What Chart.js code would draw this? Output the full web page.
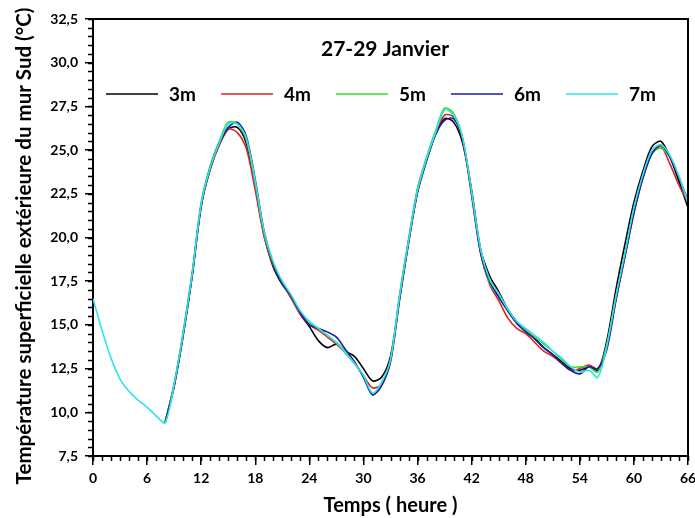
<!DOCTYPE html>
<html>
<head>
<meta charset="utf-8">
<script src="https://cdn.jsdelivr.net/npm/chart.js@4.4.1/dist/chart.umd.min.js"></script>
<style>
  html, body { margin: 0; padding: 0; background: #fff; }
  #wrap { width: 695px; height: 518px; }
</style>
</head>
<body>
<div id="wrap"><canvas id="chart" width="695" height="518"></canvas></div>
<script>
const hours = [0,1,2,3,4,5,6,7,8,9,10,11,12,13,14,15,16,17,18,19,20,21,22,23,24,25,26,27,28,29,30,31,32,33,34,35,36,37,38,39,40,41,42,43,44,45,46,47,48,49,50,51,52,53,54,55,56,57,58,59,60,61,62,63,64,65,66];

const labels = ["3m", "4m", "5m", "6m", "7m"];
const colors = ["#000000", "#d92424", "#33dd33", "#1c1ca8", "#33e3e3"];

const s3m = [null,null,null,null,null,null,null,null,9.4,11.5,14.4,17.8,21.8,23.9,25.3,26.2,26.3,25.4,22.9,20.1,18.3,17.3,16.6,15.6,14.9,14.1,13.7,13.9,13.5,13.2,12.5,11.8,12.0,13.2,16.5,19.7,22.6,24.4,25.9,26.8,26.6,25.4,22.7,19.3,17.8,16.9,15.9,15.2,14.7,14.2,13.7,13.3,12.9,12.5,12.4,12.6,12.4,14.1,17.0,19.6,22.0,23.8,25.2,25.5,24.6,23.2,21.7];
const s4m = [null,null,null,null,null,null,null,null,9.4,11.6,14.5,17.9,21.9,23.9,25.3,26.2,26.0,25.1,22.7,20.0,18.4,17.4,16.5,15.6,15.0,14.7,14.3,13.9,13.4,12.8,12.1,11.4,11.6,12.9,16.6,19.8,22.8,24.5,26.0,27.0,26.9,25.6,22.6,19.1,17.3,16.4,15.4,14.8,14.5,14.0,13.5,13.2,12.8,12.4,12.5,12.7,12.5,13.8,16.4,18.9,21.4,23.4,24.8,25.2,24.2,23.0,22.0];
const s5m = [null,null,null,null,null,null,null,null,9.4,11.6,14.6,18.0,22.0,24.1,25.5,26.6,26.5,25.6,23.1,20.2,18.5,17.4,16.6,15.7,15.1,14.8,14.4,14.0,13.5,12.8,12.1,11.0,11.6,13.0,16.7,19.9,22.8,24.6,26.1,27.4,27.1,25.7,22.5,19.2,17.4,16.6,15.8,15.1,14.7,14.3,13.9,13.5,13.0,12.6,12.6,12.6,12.3,13.9,16.6,19.1,21.6,23.5,24.8,25.1,24.6,23.5,22.0];
const s6m = [null,null,null,null,null,null,null,null,9.4,11.5,14.4,17.8,21.8,24.0,25.4,26.3,26.6,25.8,23.3,20.3,18.5,17.4,16.6,15.7,15.0,14.8,14.6,14.3,13.6,12.9,12.0,11.0,11.5,12.9,16.4,19.7,22.6,24.4,25.9,26.7,26.8,25.6,22.4,19.1,17.5,16.6,15.8,15.1,14.6,14.2,13.7,13.3,12.8,12.4,12.2,12.6,12.5,13.6,16.4,18.9,21.4,23.4,24.8,25.3,24.6,23.4,22.1];
const s7m = [16.5,14.7,13.1,11.9,11.2,10.7,10.3,9.8,9.4,11.6,14.5,17.9,21.9,24.0,25.4,26.5,26.5,25.7,23.2,20.3,18.6,17.5,16.7,15.8,15.2,14.8,14.4,14.0,13.4,12.8,12.1,11.1,11.7,13.0,16.6,19.8,22.7,24.5,26.0,27.3,27.0,25.7,22.6,19.3,17.6,16.8,15.9,15.2,14.8,14.4,14.0,13.5,13.1,12.6,12.3,12.4,12.0,13.8,16.6,19.1,21.7,23.6,25.0,25.3,24.7,23.5,22.0];

const series = [s3m, s4m, s5m, s6m, s7m];

const Y_MIN = 7.5, Y_MAX = 32.5, Y_STEP = 2.5, Y_MINOR = 0.5;
const X_MIN = 0, X_MAX = 66, X_STEP = 6, X_MINOR = 1;

const chartTitle = "27-29 Janvier";
const yTitle = "Température superficielle extérieure du mur Sud (°C)";
const xTitle = "Temps ( heure )";

const FONT = "Lato";

// frame, minor ticks, y title, title and legend inside the plot
const decorations = {
  id: "decorations",
  afterDraw(chart) {
    const { ctx, chartArea: a, scales: { x, y } } = chart;
    ctx.save();
    ctx.strokeStyle = "#000";
    ctx.lineWidth = 2;
    ctx.beginPath();
    ctx.moveTo(a.left, a.top);
    ctx.lineTo(a.right, a.top);
    ctx.lineTo(a.right, a.bottom);
    ctx.stroke();

    ctx.lineWidth = 1.5;
    ctx.beginPath();
    for (let v = Y_MIN; v <= Y_MAX; v += Y_MINOR) {
      const py = Math.round(y.getPixelForValue(v)) + 0.5;
      ctx.moveTo(a.left - 5, py);
      ctx.lineTo(a.left, py);
    }
    for (let h = X_MIN; h <= X_MAX; h += X_MINOR) {
      const px = Math.round(x.getPixelForValue(h)) + 0.5;
      ctx.moveTo(px, a.bottom);
      ctx.lineTo(px, a.bottom + 5);
    }
    ctx.stroke();

    ctx.fillStyle = "#000";
    ctx.textAlign = "center";
    ctx.textBaseline = "middle";

    ctx.save();
    ctx.translate(24, 246);
    ctx.rotate(-Math.PI / 2);
    ctx.font = "bold 20.5px " + FONT;
    ctx.fillText(yTitle, 0, 0);
    ctx.restore();

    ctx.font = "bold 21px " + FONT;
    ctx.fillText(chartTitle, 385, 49);

    ctx.font = "bold 19px " + FONT;
    ctx.textAlign = "left";
    chart.data.datasets.forEach((ds, i) => {
      const x0 = 106 + i * 115;
      ctx.strokeStyle = ds.borderColor;
      ctx.lineWidth = 1.6;
      ctx.beginPath();
      ctx.moveTo(x0, 94);
      ctx.lineTo(x0 + 52, 94);
      ctx.stroke();
      ctx.fillText(ds.label, x0 + 63, 95);
    });
    ctx.restore();
  }
};

const datasets = series.map((s, i) => ({
  label: labels[i],
  data: hours.map((h, k) => ({ x: h, y: s[k] })),
  borderColor: colors[i],
  backgroundColor: colors[i],
  borderWidth: 1.6,
  pointRadius: 0,
  tension: 0.3,
  fill: false,
  order: labels.length - i
}));

new Chart(document.getElementById("chart"), {
  type: "line",
  data: { datasets },
  options: {
    responsive: false,
    animation: false,
    layout: { padding: { top: 19, right: 7, left: 0, bottom: 0 } },
    plugins: {
      legend: { display: false },
      title: { display: false },
      tooltip: { enabled: false }
    },
    scales: {
      x: {
        type: "linear",
        min: X_MIN,
        max: X_MAX,
        afterFit: s => { s.height = 62; s.paddingLeft = 0; s.paddingRight = 0; },
        ticks: {
          stepSize: X_STEP,
          color: "#000",
          padding: 5,
          maxRotation: 0,
          autoSkip: false,
          font: { family: FONT, size: 14, weight: "bold" }
        },
        grid: { drawOnChartArea: false, drawTicks: true, tickLength: 9, color: "#000", lineWidth: 1.5 },
        border: { display: true, color: "#000", width: 2 },
        title: {
          display: true,
          text: xTitle,
          color: "#000",
          padding: { top: 0, bottom: 0 },
          font: { family: FONT, size: 20, weight: "bold" }
        }
      },
      y: {
        min: Y_MIN,
        max: Y_MAX,
        afterFit: s => { s.width = 93; s.paddingTop = 0; s.paddingBottom = 0; },
        ticks: {
          stepSize: Y_STEP,
          color: "#000",
          padding: 7,
          font: { family: FONT, size: 14, weight: "bold" },
          callback: v => v.toFixed(1).replace(".", ",")
        },
        grid: { drawOnChartArea: false, drawTicks: true, tickLength: 8, color: "#000", lineWidth: 1.5 },
        border: { display: true, color: "#000", width: 2 }
      }
    }
  },
  plugins: [decorations]
});
</script>
</body>
</html>
